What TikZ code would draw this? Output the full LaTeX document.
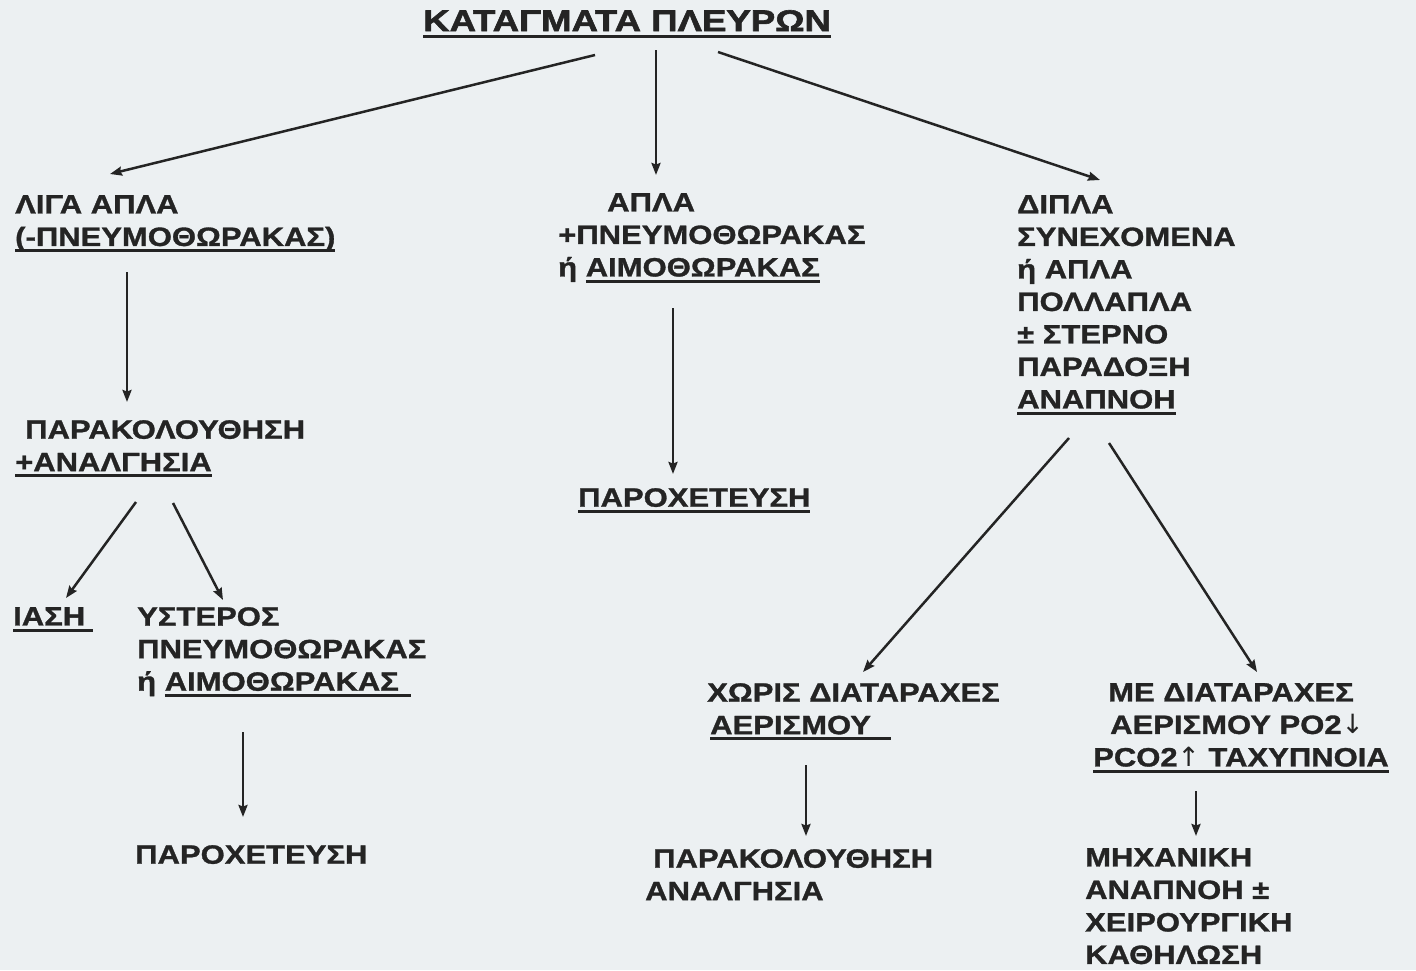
\documentclass[tikz,border=0pt]{standalone}
\usepackage{fontspec}
\usetikzlibrary{arrows.meta,calc}
\newfontfamily\bodyfont{Liberation Sans Bold}[FakeStretch=1.17, FakeBold=1.2]
\newfontfamily\titlefont{Liberation Sans Bold}[FakeStretch=1.22, FakeBold=2]
\newfontfamily\arrowfont{DejaVu Sans}
\definecolor{paper}{RGB}{236,240,242}
\definecolor{ink}{RGB}{36,36,36}
\newcommand\myul[2][0pt]{\setbox0\hbox{#2}\rlap{\rule[-0.23em]{\dimexpr\wd0+#1\relax}{0.11em}}\box0}
\newcommand\darr{{\arrowfont ↓}}
\newcommand\uarr{{\arrowfont ↑}}
\begin{document}
\begin{tikzpicture}[x=1pt,y=-1pt,
  txt/.style={anchor=north west, inner sep=0pt, align=left, text=ink,
    font=\bodyfont\fontsize{26.5}{32.5}\selectfont},
  ttl/.style={anchor=north west, inner sep=0pt, text=ink,
    font=\titlefont\fontsize{30}{36}\selectfont},
  arr/.style={draw=ink, line width=2.5pt, -{Stealth[length=12pt,width=9pt,inset=1.5pt]}}]
\fill[paper] (0,0) rectangle (1416,970);
\useasboundingbox (0,0) rectangle (1416,970);

% nodes
\node[ttl] (title) at (423,10) {\myul{ΚΑΤΑΓΜΑΤΑ ΠΛΕΥΡΩΝ}};
\node[txt] (lig) at (15,195) {ΛΙΓΑ ΑΠΛΑ\\\myul{(-ΠΝΕΥΜΟΘΩΡΑΚΑΣ)}};
\node[txt] (apla) at (558,193) {\hspace*{49pt}ΑΠΛΑ\\+ΠΝΕΥΜΟΘΩΡΑΚΑΣ\\ή \myul{ΑΙΜΟΘΩΡΑΚΑΣ}};
\node[txt] (dipla) at (1017,195) {ΔΙΠΛΑ\\ΣΥΝΕΧΟΜΕΝΑ\\ή ΑΠΛΑ\\ΠΟΛΛΑΠΛΑ\\± ΣΤΕΡΝΟ\\ΠΑΡΑΔΟΞΗ\\\myul{ΑΝΑΠΝΟΗ}};
\node[txt] (parak1) at (15,420) {\hspace*{10pt}ΠΑΡΑΚΟΛΟΥΘΗΣΗ\\\myul{+ΑΝΑΛΓΗΣΙΑ}};
\node[txt] (iasi) at (13,607) {\myul[8pt]{ΙΑΣΗ}};
\node[txt] (yst) at (137,607) {ΥΣΤΕΡΟΣ\\ΠΝΕΥΜΟΘΩΡΑΚΑΣ\\ή \myul[12pt]{ΑΙΜΟΘΩΡΑΚΑΣ}};
\node[txt] (parox1) at (135,845) {ΠΑΡΟΧΕΤΕΥΣΗ};
\node[txt] (parox2) at (578,488) {\myul{ΠΑΡΟΧΕΤΕΥΣΗ}};
\node[txt] (xoris) at (707,683) {ΧΩΡΙΣ ΔΙΑΤΑΡΑΧΕΣ\\\hspace*{3pt}\myul[20pt]{ΑΕΡΙΣΜΟΥ}};
\node[txt] (parak2) at (645,849) {\hspace*{8pt}ΠΑΡΑΚΟΛΟΥΘΗΣΗ\\ΑΝΑΛΓΗΣΙΑ};
\node[txt] (me) at (1093,683) {\hspace*{15pt}ΜΕ ΔΙΑΤΑΡΑΧΕΣ\\\hspace*{17pt}ΑΕΡΙΣΜΟΥ PO2\darr\\\myul{PCO2\uarr\ ΤΑΧΥΠΝΟΙΑ}};
\node[txt] (mech) at (1085,848) {ΜΗΧΑΝΙΚΗ\\ΑΝΑΠΝΟΗ ±\\ΧΕΙΡΟΥΡΓΙΚΗ\\ΚΑΘΗΛΩΣΗ};

% connectors
\draw[arr] ($(title.north west)+(172,45)$) -- ($(lig.north west)+(95,-21)$);
\draw[arr] ($(title.north west)+(233,40)$) -- ($(apla.north west)+(98,-18)$);
\draw[arr] ($(title.north west)+(295,42)$) -- ($(dipla.north west)+(83,-15)$);
\draw[arr] ($(lig.north west)+(112,77)$) -- ($(parak1.north west)+(112,-18)$);
\draw[arr] ($(parak1.north west)+(121,82)$) -- ($(iasi.north west)+(53,-9)$);
\draw[arr] ($(parak1.north west)+(158,83)$) -- ($(yst.north west)+(86,-7)$);
\draw[arr] ($(yst.north west)+(106,125)$) -- ($(parox1.north west)+(108,-28)$);
\draw[arr] ($(apla.north west)+(115,115)$) -- ($(parox2.north west)+(95,-14)$);
\draw[arr] ($(dipla.north west)+(52,243)$) -- ($(xoris.north west)+(156,-11)$);
\draw[arr] ($(dipla.north west)+(92,248)$) -- ($(me.north west)+(164,-11)$);
\draw[arr] ($(xoris.north west)+(99,82)$) -- ($(parak2.north west)+(161,-13)$);
\draw[arr] ($(me.north west)+(103,108)$) -- ($(mech.north west)+(111,-12)$);
\end{tikzpicture}
\end{document}
